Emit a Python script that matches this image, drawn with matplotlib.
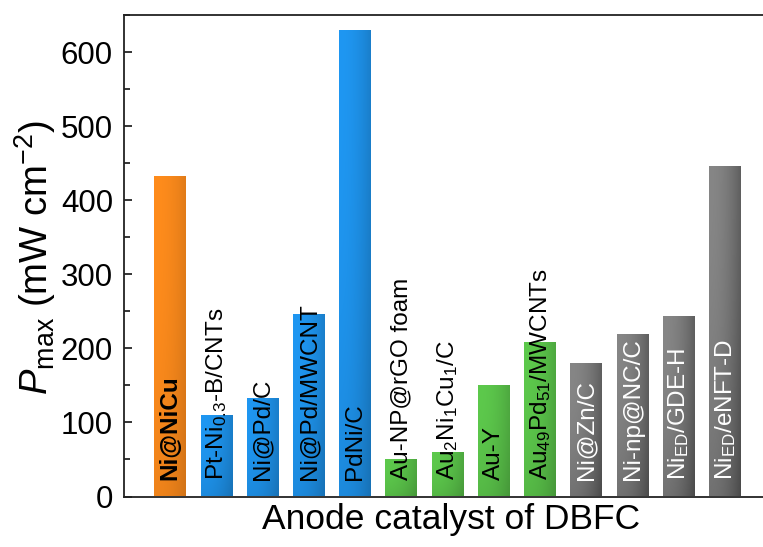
import numpy as np
import matplotlib.pyplot as plt
from matplotlib.colors import to_rgb
from matplotlib.ticker import MultipleLocator

plt.rcParams['font.family'] = ['Liberation Sans', 'DejaVu Sans']
plt.rcParams['mathtext.fontset'] = 'custom'
plt.rcParams['mathtext.rm'] = 'Liberation Sans'
plt.rcParams['mathtext.it'] = 'Liberation Sans:italic'
plt.rcParams['mathtext.bf'] = 'Liberation Sans:bold'

# catalysts and peak power density (mW cm-2)
catalysts = ['Ni@NiCu', 'Pt-Ni$_{0.3}$-B/CNTs', 'Ni@Pd/C', 'Ni@Pd/MWCNT', 'PdNi/C',
             'Au-NP@rGO foam', 'Au$_2$Ni$_1$Cu$_1$/C', 'Au-Y', 'Au$_{49}$Pd$_{51}$/MWCNTs',
             'Ni@Zn/C', 'Ni-np@NC/C', 'Ni$_\\mathrm{ED}$/GDE-H', 'Ni$_\\mathrm{ED}$/eNFT-D']
pmax = [433, 110, 133, 247, 630, 50, 60, 150, 208, 180, 219, 243, 446]
groups = ['this', 'Pd', 'Pd', 'Pd', 'Pd', 'Au', 'Au', 'Au', 'Au', 'Ni', 'Ni', 'Ni', 'Ni']

group_color = {'this': '#FF8C1C', 'Pd': '#1F97F2', 'Au': '#5DC94C', 'Ni': '#868686'}
group_shade = {'this': 0.18, 'Pd': 0.25, 'Au': 0.25, 'Ni': 0.45}
text_color = {'this': 'black', 'Pd': 'black', 'Au': 'black', 'Ni': 'white'}

fig = plt.figure(figsize=(7.63, 5.47), dpi=100)
ax = fig.add_axes([124/763, 50.5/547, 1 - 124/763, 481.5/547])

x = np.arange(1, len(pmax) + 1)
width = 0.69
bars = ax.bar(x, pmax, width=width, color='none', edgecolor='none', zorder=2)

# shaded fill: darker toward the lower right of each bar
nx, ny = 40, 200
gx = np.linspace(0, 1, nx)[None, :]
gy = np.linspace(0, 1, ny)[:, None]   # 0 at bottom
t = np.clip(0.65 * gx**2 + 0.35 * (1 - gy)**2, 0, 1)
for b, g in zip(bars, groups):
    base = np.array(to_rgb(group_color[g]))
    fac = 1 - group_shade[g] * t
    img = base[None, None, :] * fac[:, :, None]
    x0, h = b.get_x(), b.get_height()
    im = ax.imshow(img, extent=[x0, x0 + width, 0, h], origin='lower',
                   aspect='auto', zorder=2, interpolation='bilinear')
    im.set_clip_path(b)

for xi, name, g in zip(x, catalysts, groups):
    ax.text(xi, 22, name, rotation=90, ha='center', va='bottom', fontsize=17.5,
            color=text_color[g], fontweight='bold' if g == 'this' else 'normal',
            zorder=3)

ax.set_xlim(0, 13.82)
ax.set_ylim(0, 650)
ax.set_xticks([])
ax.yaxis.set_major_locator(MultipleLocator(100))
ax.yaxis.set_minor_locator(MultipleLocator(50))
ax.tick_params(axis='y', which='major', direction='in', length=6, width=1.1,
               labelsize=22.5, pad=8)
ax.tick_params(axis='y', which='minor', direction='in', length=4, width=1.1)
ax.spines['right'].set_visible(False)
for s in ['left', 'top', 'bottom']:
    ax.spines[s].set_linewidth(1.3)
    ax.spines[s].set_color('#222222')

fig.text(451/763, 1 - 520/547, 'Anode catalyst of DBFC', ha='center', va='center',
         fontsize=25.5)
fig.text(35/763, 1 - 258/547, '$P$$_\\mathrm{max}$ (mW cm$^{-2}$)', rotation=90,
         ha='center', va='center', fontsize=27.5)

fig.savefig('out.png', dpi=100)
